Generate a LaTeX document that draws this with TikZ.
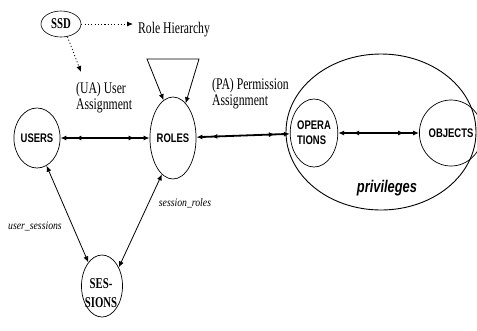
\documentclass[tikz,border=0pt]{standalone}
\usepackage{fontspec}
\setmainfont{Liberation Serif}
\newfontfamily\labelfont[FakeStretch=0.72]{Liberation Serif}
\newfontfamily\entityfont[FakeStretch=0.76]{Liberation Sans}
\newfontfamily\assocfont[FakeStretch=0.85]{Liberation Serif}
\usetikzlibrary{shapes.geometric,arrows.meta,decorations.markings}

\begin{document}
\begin{tikzpicture}[x=1bp,y=-1bp,
  >={Latex[length=6bp,width=5bp]},
  entity/.style={ellipse,draw,line width=0.7bp,inner sep=0pt,align=left,
    font=\entityfont\bfseries\fontsize{12.5}{15}\selectfont},
  caption/.style={inner sep=0pt,align=left,
    font=\labelfont\fontsize{16.3}{16}\selectfont},
  relname/.style={inner sep=0pt,font=\assocfont\itshape\fontsize{11.5}{13}\selectfont},
  link/.style={<->,line width=0.8bp},
  manymany/.style={<->,postaction={decorate},
    decoration={markings,
      mark=at position 15bp with {\arrowreversed{>}},
      mark=at position -15bp with {\arrow{>}}}},
  dotarrow/.style={->,line width=0.8bp,dash pattern=on 1.1bp off 2.2bp}
]
\useasboundingbox (0,0) rectangle (477,330);

% static separation of duty and the role hierarchy
\node[ellipse,draw,line width=0.6bp,minimum width=40bp,minimum height=26bp,inner sep=0pt,
  font=\labelfont\bfseries\fontsize{15}{16}\selectfont] (ssd) at (61,24) {SSD};
\node[caption] (rh) at (174,30) {Role Hierarchy};
\coordinate (rh-tip) at (133,24);
\coordinate (ua-tip) at (81,72);
\draw[dotarrow] (ssd.east) -- (rh-tip);
\draw[dotarrow] (ssd.-63) -- (ua-tip);

% assignment captions
\node[caption,anchor=north west] (ua) at (76,82) {(UA) User\\Assignment};
\node[caption,anchor=north west] (pa) at (212,78) {(PA) Permission\\Assignment};

% core entities
\node[entity,minimum width=43bp,minimum height=60bp] (users) at (37,138) {USERS};
\node[entity,minimum width=42bp,minimum height=82bp] (roles) at (173,138) {ROLES};
\node[ellipse,draw,line width=0.9bp,minimum width=190bp,minimum height=156bp] (privregion) at (381,132) {};
\node[entity,minimum width=43bp,minimum height=68bp] (ops) at (314,133) {OPERA\\TIONS};
\node[entity,minimum width=45bp,minimum height=66bp] (objs) at (451,133) {OBJECTS};
\node[inner sep=0pt,font=\entityfont\bfseries\itshape\fontsize{17}{18}\selectfont] (priv) at (387,188) {privileges};

% sessions
\node[ellipse,draw,line width=0.7bp,minimum width=41bp,minimum height=62bp,inner sep=0pt] (sessions) at (102,286) {};
\node[inner sep=0pt,align=center,font=\labelfont\bfseries\fontsize{15}{19}\selectfont] (sesstext) at (101,293) {SES-\\SIONS};

% role hierarchy loop
\coordinate (hier-l) at (147,59);
\coordinate (hier-r) at (199,59);
\draw[link] (roles.104) -- (hier-l) -- (hier-r) -- (roles.70);

% many-to-many relations
\draw[manymany,line width=1.2bp] (users) -- (roles);
\draw[manymany,line width=1.8bp] (roles) -- (ops);
\draw[manymany,line width=1.3bp] (ops) -- (objs);

% session relations
\draw[link] (users.-71) -- (sessions.120);
\draw[link] (sessions.48) -- (roles.-107);
\node[relname] (usess) at (35,226) {user\_sessions};
\node[relname] (sroles) at (185,203) {session\_roles};
\end{tikzpicture}
\end{document}
